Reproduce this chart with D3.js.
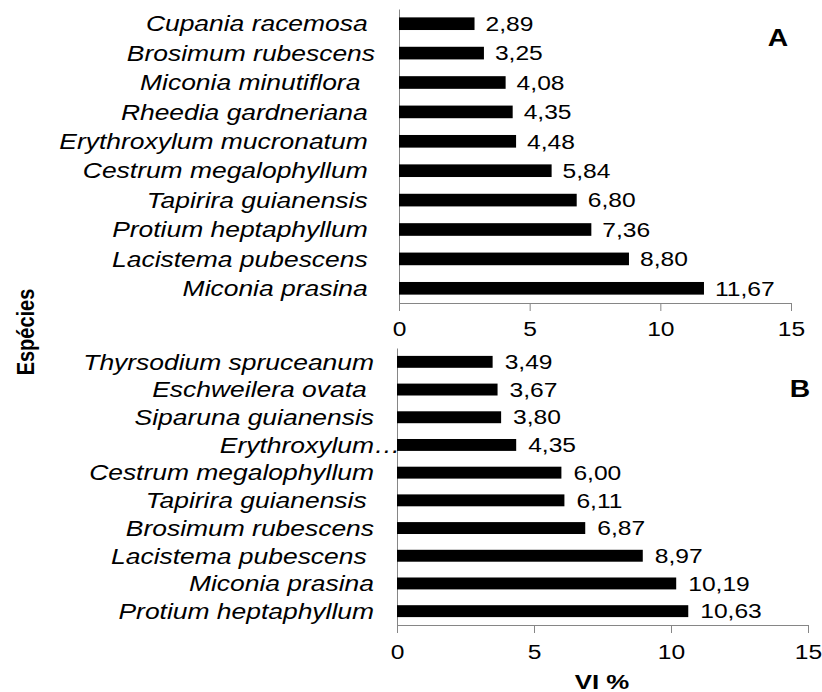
<!DOCTYPE html>
<meta charset="utf-8">
<style>
body{margin:0;background:#fff}
text{font-family:"Liberation Sans",Arial,sans-serif;fill:#000;white-space:pre}
</style>
<script src="https://d3js.org/d3.v7.min.js"></script>
<body>
<script>
var width = 822, height = 692
var sx = 1.23 // the source picture is stretched sideways, so the text is too

var speciesA = ["Cupania racemosa ","Brosimum rubescens","Miconia minutiflora  ","Rheedia gardneriana ",
  "Erythroxylum mucronatum ","Cestrum megalophyllum ","Tapirira guianensis ","Protium heptaphyllum ",
  "Lacistema pubescens ","Miconia prasina "]
var valuesA = [2.89,3.25,4.08,4.35,4.48,5.84,6.80,7.36,8.80,11.67]

var speciesB = ["Thyrsodium spruceanum","Eschweilera ovata ","Siparuna guianensis","Erythroxylum\u2026",
  "Cestrum megalophyllum","Tapirira guianensis ","Brosimum rubescens","Lacistema pubescens ",
  "Miconia prasina","Protium heptaphyllum"]
var valuesB = [3.49,3.67,3.80,4.35,6.00,6.11,6.87,8.97,10.19,10.63]

var ticks = [0,5,10,15]
var axisColor = "#868686"

var fmt = d3.formatLocale({decimal:",",thousands:".",grouping:[3],currency:["",""]}).format(".2f")

var svg = d3.select("body").append("svg").attr("width",width).attr("height",height)

function panel(names, vals, letter, o){
  var x = d3.scaleLinear().domain([0,15]).range([o.x0,o.x1])
  var y = d3.scaleBand().domain(names).range([o.y0,o.y1]).paddingInner(0.57).paddingOuter(0.285)
  var g = svg.append("g")

  // bottom axis
  var xa = g.append("g").attr("transform","translate(0,"+o.y1+")")
    .call(d3.axisBottom(x).tickValues(ticks).tickSizeInner(8).tickSizeOuter(0).tickPadding(o.pad))
  xa.select(".domain").attr("stroke",axisColor)
  xa.selectAll(".tick line").attr("stroke",axisColor)
  xa.selectAll(".tick text").style("font-size","20px").attr("transform","scale("+sx+",1)")

  // left axis with species names
  var ya = g.append("g").attr("transform","translate("+o.x0+",0)")
    .call(d3.axisLeft(y).tickSize(0).tickSizeOuter(0).tickPadding(0))
  ya.select(".domain").attr("stroke",axisColor)
  ya.selectAll(".tick text")
    .style("font-size","21.5px").style("font-style","italic")
    .attr("x",-o.lpad/sx).attr("dy","0.36em")
    .attr("transform","scale("+sx+",1)")
    .each(function(d){
      // a cut name lets its dots run past the right edge
      if(d.slice(-1)=="\u2026"){
        var w = this.getSubStringLength(d.length-1,1)
        d3.select(this).attr("x",-o.lpad/sx + w)
      }
    })

  g.selectAll("rect").data(names).enter().append("rect")
    .attr("x",x(0)).attr("y",d=>y(d))
    .attr("width",(d,i)=>x(vals[i])-x(0)).attr("height",y.bandwidth())
    .attr("fill","#000")

  g.selectAll(".val").data(vals).enter().append("text").attr("class","val")
    .attr("transform",(d,i)=>"translate("+(x(d)+o.vpad)+","+(y(names[i])+y.bandwidth()/2)+") scale("+sx+",1)")
    .attr("dy","0.36em").style("font-size","20px")
    .text(d=>fmt(d))

  g.append("text")
    .attr("transform","translate("+o.lx+","+o.ly+") scale("+sx+",1)")
    .attr("text-anchor","middle").attr("dy","0.36em")
    .style("font-size","23px").style("font-weight","bold")
    .text(letter)
}

panel(speciesA, valuesA, "A", {x0:399,x1:791,y0:9,y1:303,pad:11,lpad:24,vpad:11,lx:778,ly:38})
panel(speciesB, valuesB, "B", {x0:397,x1:808,y0:348,y1:625,pad:12,lpad:23,vpad:12,lx:800,ly:389})

svg.append("text")
  .attr("transform","translate(602,681) scale("+sx+",1)")
  .attr("text-anchor","middle").attr("dy","0.36em")
  .style("font-size","21px").style("font-weight","bold")
  .text("VI %")

svg.append("text")
  .attr("transform","translate(25,332) scale(1.2,1) rotate(-90)")
  .attr("text-anchor","middle").attr("dy","0.36em")
  .style("font-size","20px").style("font-weight","bold")
  .text("Espécies")
</script>
